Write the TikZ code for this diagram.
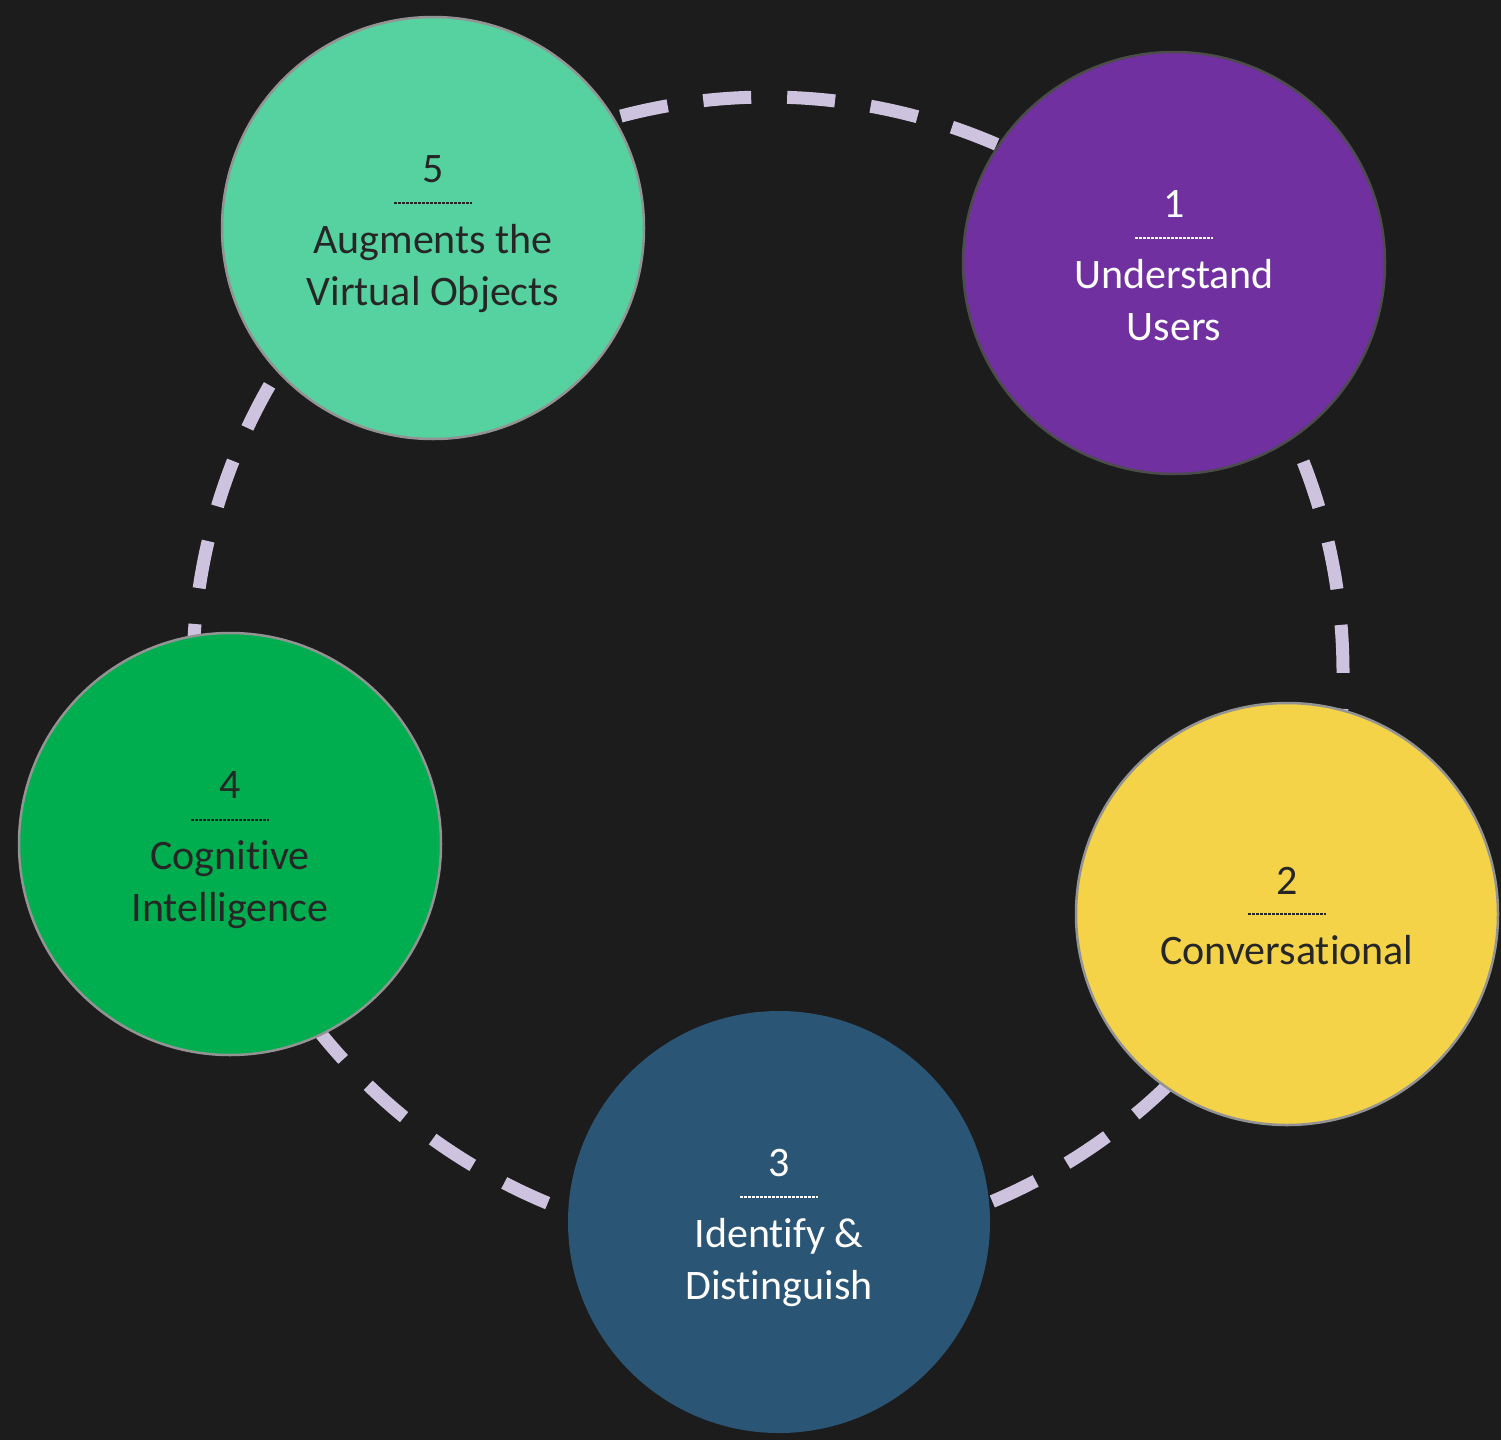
\documentclass[tikz,border=0pt]{standalone}
\usepackage{fontspec}
\setmainfont{Carlito}[Ligatures=NoCommon]
\definecolor{bg}{HTML}{1C1C1C}
\definecolor{ringc}{HTML}{CDC3DE}
\definecolor{cfive}{HTML}{55D2A0}
\definecolor{cone}{HTML}{7030A0}
\definecolor{ctwo}{HTML}{F4D348}
\definecolor{cthree}{HTML}{2A5574}
\definecolor{cfour}{HTML}{00AE4F}
\definecolor{darktxt}{HTML}{262626}
\begin{document}
\begin{tikzpicture}[x=1pt,y=-1pt,
  stage/.style={circle,minimum size=422pt,inner sep=0pt,line width=2.5pt},
  ring/.style={draw=ringc,line width=13pt,dash pattern=on 48pt off 36pt},
  lbl/.style={font=\fontsize{42}{50}\selectfont,inner sep=0pt,anchor=base},
  sep/.style={line width=1.6pt,dash pattern=on 2.6pt off 1.4pt}]
\useasboundingbox[fill=bg] (0,0) rectangle (1501,1440);
\coordinate (O) at (768,672);
% dashed ring segments between the stages (1->2->3->4->5->1)
\draw[ring,dash phase=13.5pt] (O) ++(-45.21:575) arc[start angle=-45.21,end angle=25.0,radius=575];
\draw[ring,dash phase=46.1pt] (O) ++(25.0:575) arc[start angle=25.0,end angle=88.85,radius=575];
\draw[ring,dash phase=14.4pt] (O) ++(88.85:575) arc[start angle=88.85,end angle=162.27,radius=575];
\draw[ring,dash phase=74pt] (O) ++(162.27:575) arc[start angle=162.27,end angle=232.97,radius=575];
\draw[ring,dash phase=29.2pt] (O) ++(232.97:575) arc[start angle=232.97,end angle=314.79,radius=575];
\node[stage,fill=cfive,draw=gray!85] (c5) at (433,228) {};
\node[stage,fill=cone,draw=black!70] (c1) at (1174,263) {};
\node[stage,fill=ctwo,draw=gray!85] (c2) at (1287,914) {};
\node[stage,fill=cthree] (c3) at (779,1222) {};
\node[stage,fill=cfour,draw=gray!85] (c4) at (230,844) {};
% circle 5
\node[lbl,text=darktxt] (n5) at ([yshift=46pt]c5.center) {5};
\draw[sep,darktxt] ([xshift=-39pt,yshift=25pt]c5.center) coordinate (s5a) -- ([xshift=39pt,yshift=25pt]c5.center) coordinate (s5b);
\node[lbl,text=darktxt] (t5a) at ([yshift=-25pt]c5.center) {Augments the};
\node[lbl,text=darktxt] (t5b) at ([yshift=-77pt]c5.center) {Virtual Objects};
% circle 1
\node[lbl,text=white] (n1) at ([yshift=46pt]c1.center) {1};
\draw[sep,white] ([xshift=-39pt,yshift=25pt]c1.center) coordinate (s1a) -- ([xshift=39pt,yshift=25pt]c1.center) coordinate (s1b);
\node[lbl,text=white] (t1a) at ([yshift=-25pt]c1.center) {Understand};
\node[lbl,text=white] (t1b) at ([yshift=-77pt]c1.center) {Users};
% circle 2
\node[lbl,text=darktxt] (n2) at ([yshift=20pt]c2.center) {2};
\draw[sep,darktxt] ([xshift=-39pt]c2.center) coordinate (s2a) -- ([xshift=39pt]c2.center) coordinate (s2b);
\node[lbl,text=darktxt] (t2a) at ([yshift=-50pt]c2.center) {Conversational};
% circle 3
\node[lbl,text=white] (n3) at ([yshift=46pt]c3.center) {3};
\draw[sep,white] ([xshift=-39pt,yshift=25pt]c3.center) coordinate (s3a) -- ([xshift=39pt,yshift=25pt]c3.center) coordinate (s3b);
\node[lbl,text=white] (t3a) at ([yshift=-25pt]c3.center) {Identify \&};
\node[lbl,text=white] (t3b) at ([yshift=-77pt]c3.center) {Distinguish};
% circle 4
\node[lbl,text=darktxt] (n4) at ([yshift=46pt]c4.center) {4};
\draw[sep,darktxt] ([xshift=-39pt,yshift=24pt]c4.center) coordinate (s4a) -- ([xshift=39pt,yshift=24pt]c4.center) coordinate (s4b);
\node[lbl,text=darktxt] (t4a) at ([yshift=-25pt]c4.center) {Cognitive};
\node[lbl,text=darktxt] (t4b) at ([yshift=-77pt]c4.center) {Intelligence};
\end{tikzpicture}
\end{document}
